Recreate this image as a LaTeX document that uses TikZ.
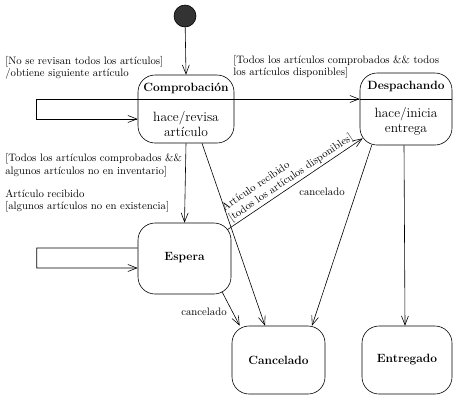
\documentclass[tikz,border=0pt]{standalone}
\usetikzlibrary{arrows.meta,calc}
\begin{document}
\begin{tikzpicture}[x=1bp,y=-1bp,line width=0.6pt,
  state/.style={draw,rounded corners=17bp,inner sep=0pt},
  ttl/.style={font=\fontsize{12}{14}\selectfont\bfseries,inner sep=0pt},
  body/.style={font=\fontsize{13.5}{15}\selectfont,align=center,inner sep=0pt},
  lbl/.style={font=\fontsize{10.8}{12.5}\selectfont,align=left,inner sep=0pt},
  arr/.style={-{Straight Barb[length=9bp,width=7bp]}}]
\useasboundingbox[fill=white] (0,0) rectangle (455,395);
% states
\node[circle,fill=black!80,draw=black,minimum size=22bp,inner sep=0pt] (ini) at (185,16) {};
\node[state,minimum width=96bp,minimum height=68bp] (comp) at (186,109) {};
\node[ttl] (compt) at (186,88) {Comprobación};
\node[body] (compb) at (186,124) {hace/revisa\\artículo};
\node[state,minimum width=92bp,minimum height=72bp] (desp) at (406,109) {};
\node[ttl] (despt) at (406,87) {Despachando};
\node[body] (despb) at (406,121) {hace/inicia\\entrega};
\node[state,minimum width=93bp,minimum height=71bp] (esp) at (184.5,258.5) {};
\node[ttl] (espt) at (184.5,258) {Espera};
\node[state,minimum width=93bp,minimum height=68bp] (canc) at (278.5,360) {};
\node[ttl] (canct) at (278.5,360) {Cancelado};
\node[state,minimum width=90bp,minimum height=68bp] (entr) at (407,360) {};
\node[ttl] (entrt) at (407,360) {Entregado};
% dividers
\draw ($(comp.west)+(0,-10)$) -- ($(comp.east)+(0,-10)$);
\draw ($(desp.west)+(0,-10)$) -- ($(desp.east)+(0,-10)$);
% transitions
\draw[arr] (ini) -- (comp.north);
\draw[arr] ($(comp.west)+(0,-10)$) -- ++(-101,0) -- ++(0,20) -- ($(comp.west)+(0,10)$);
\draw[arr] ($(esp.west)+(0,-10.5)$) -- ++(-101,0) -- ++(0,20) -- ($(esp.west)+(0,9.5)$);
\draw[arr] ($(comp.east)+(0,-10)$) -- ($(desp.west)+(0,-10)$);
\draw[arr] (comp.south) -- (esp.north);
\draw[arr] ($(comp.south)+(16,0)$) -- ($(canc.north)+(-13.5,0)$);
\draw[arr] ($(esp.north east)+(-4,7)$) -- node[lbl,sloped,above=1.5bp,pos=0.5] (lrec) {Artículo recibido\\{}[todos los artículos disponibles]} ($(desp.south west)+(3,-7)$);
\draw[arr] ($(esp.south east)+(-9,-2)$) -- ($(canc.north west)+(8,0)$);
\draw[arr] ($(desp.south west)+(12,0)$) -- ($(canc.north)+(33.5,0)$);
\draw[arr] ($(desp.south)+(-2,0)$) -- ($(entr.north)+(-2,0)$);
% labels
\node[lbl,anchor=west] (l1) at (5,68) {[No se revisan todos los artículos]\\/obtiene siguiente artículo};
\node[lbl,anchor=west] (l2) at (233,67) {[Todos los artículos comprobados \&\& todos\\los artículos disponibles]};
\node[lbl,anchor=west] (l3) at (5,165.5) {[Todos los artículos comprobados \&\&\\algunos artículos no en inventario]};
\node[lbl,anchor=west] (l4) at (5,201) {Artículo recibido\\{}[algunos artículos no en existencia]};
\node[lbl] (l5) at (322,192) {cancelado};
\node[lbl] (l6) at (204,312) {cancelado};
\end{tikzpicture}
\end{document}
